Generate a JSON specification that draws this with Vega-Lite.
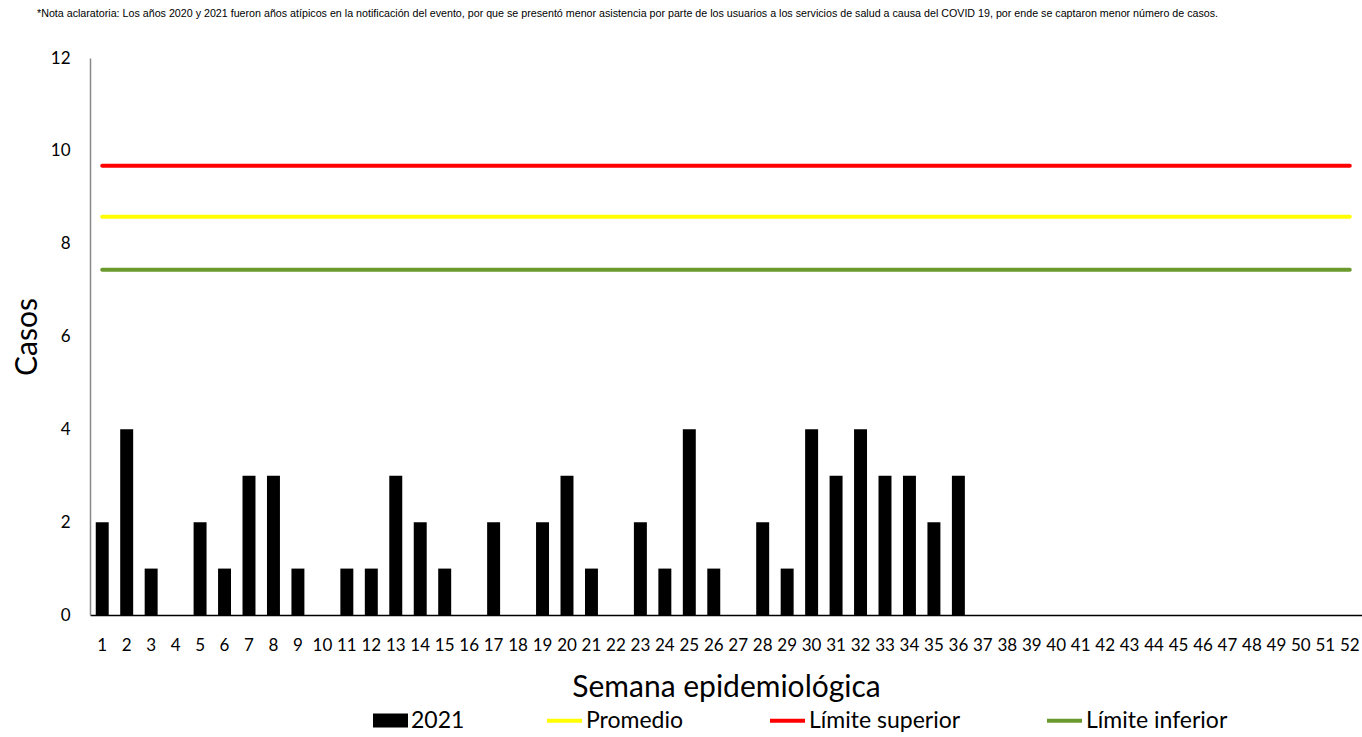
{
  "$schema": "https://vega.github.io/schema/vega-lite/v6.json",
  "autosize": {"type": "none"},
  "padding": {"left": 90, "top": 58, "right": 0, "bottom": 122},
  "width": 1272,
  "height": 557,
  "background": "white",
  "title": {
    "text": "*Nota aclaratoria: Los años 2020 y 2021 fueron años atípicos en la notificación del evento, por que se presentó menor asistencia por parte de los usuarios a los servicios de salud a causa del COVID 19, por ende se captaron menor número de casos.",
    "anchor": "start",
    "frame": "group",
    "font": "Liberation Sans",
    "fontSize": 10.7,
    "fontWeight": "normal",
    "color": "#000000",
    "dx": -53,
    "offset": 21,
    "baseline": "alphabetic"
  },
  "config": {
    "view": {"stroke": null},
    "font": "Lato"
  },
  "layer": [
    {
      "data": {
        "values": [
          {"semana": 1, "casos": 2, "serie": "2021"},
          {"semana": 2, "casos": 4, "serie": "2021"},
          {"semana": 3, "casos": 1, "serie": "2021"},
          {"semana": 4, "casos": 0, "serie": "2021"},
          {"semana": 5, "casos": 2, "serie": "2021"},
          {"semana": 6, "casos": 1, "serie": "2021"},
          {"semana": 7, "casos": 3, "serie": "2021"},
          {"semana": 8, "casos": 3, "serie": "2021"},
          {"semana": 9, "casos": 1, "serie": "2021"},
          {"semana": 10, "casos": 0, "serie": "2021"},
          {"semana": 11, "casos": 1, "serie": "2021"},
          {"semana": 12, "casos": 1, "serie": "2021"},
          {"semana": 13, "casos": 3, "serie": "2021"},
          {"semana": 14, "casos": 2, "serie": "2021"},
          {"semana": 15, "casos": 1, "serie": "2021"},
          {"semana": 16, "casos": 0, "serie": "2021"},
          {"semana": 17, "casos": 2, "serie": "2021"},
          {"semana": 18, "casos": 0, "serie": "2021"},
          {"semana": 19, "casos": 2, "serie": "2021"},
          {"semana": 20, "casos": 3, "serie": "2021"},
          {"semana": 21, "casos": 1, "serie": "2021"},
          {"semana": 22, "casos": 0, "serie": "2021"},
          {"semana": 23, "casos": 2, "serie": "2021"},
          {"semana": 24, "casos": 1, "serie": "2021"},
          {"semana": 25, "casos": 4, "serie": "2021"},
          {"semana": 26, "casos": 1, "serie": "2021"},
          {"semana": 27, "casos": 0, "serie": "2021"},
          {"semana": 28, "casos": 2, "serie": "2021"},
          {"semana": 29, "casos": 1, "serie": "2021"},
          {"semana": 30, "casos": 4, "serie": "2021"},
          {"semana": 31, "casos": 3, "serie": "2021"},
          {"semana": 32, "casos": 4, "serie": "2021"},
          {"semana": 33, "casos": 3, "serie": "2021"},
          {"semana": 34, "casos": 3, "serie": "2021"},
          {"semana": 35, "casos": 2, "serie": "2021"},
          {"semana": 36, "casos": 3, "serie": "2021"}
        ]
      },
      "mark": {"type": "bar"},
      "encoding": {
        "x": {
          "field": "semana",
          "type": "ordinal",
          "scale": {
            "domain": [1,2,3,4,5,6,7,8,9,10,11,12,13,14,15,16,17,18,19,20,21,22,23,24,25,26,27,28,29,30,31,32,33,34,35,36,37,38,39,40,41,42,43,44,45,46,47,48,49,50,51,52],
            "paddingInner": 0.47,
            "paddingOuter": 0.235
          },
          "axis": {
            "title": "Semana epidemiológica",
            "titleFont": "Lato",
            "titleFontSize": 30,
            "titleFontWeight": "normal",
            "titleColor": "#000000",
            "titlePadding": 19,
            "labelAngle": 0,
            "labelFont": "Lato",
            "labelFontSize": 17,
            "labelColor": "#000000",
            "labelPadding": 22,
            "ticks": false,
            "domainColor": "#000000",
            "domainWidth": 1.5
          }
        },
        "y": {
          "field": "casos",
          "type": "quantitative",
          "scale": {"domain": [0, 12]},
          "axis": {
            "title": "Casos",
            "titleFont": "Lato",
            "titleFontSize": 30,
            "titleFontWeight": "normal",
            "titleColor": "#000000",
            "titlePadding": 8,
            "values": [0, 2, 4, 6, 8, 10, 12],
            "labelFont": "Lato",
            "labelFontSize": 17,
            "labelColor": "#000000",
            "labelPadding": 20,
            "ticks": false,
            "grid": false,
            "domainColor": "#888888",
            "domainWidth": 1.5
          }
        },
        "fill": {
          "field": "serie",
          "type": "nominal",
          "scale": {"domain": ["2021"], "range": ["#000000"]},
          "legend": {
            "title": null,
            "orient": "none",
            "legendX": 283,
            "legendY": 645,
            "direction": "horizontal",
            "padding": 0,
            "symbolType": "M-1,-0.4H1V0.4H-1Z",
            "symbolSize": 1225,
            "symbolStrokeWidth": 0,
            "labelFont": "Lato",
            "labelFontSize": 23,
            "labelColor": "#000000",
            "labelOffset": 3,
            "labelLimit": 300
          }
        }
      }
    },
    {
      "data": {
        "values": [
          {"serie": "Promedio", "valor": 8.58, "desde": 1, "hasta": 52},
          {"serie": "Límite superior", "valor": 9.68, "desde": 1, "hasta": 52},
          {"serie": "Límite inferior", "valor": 7.44, "desde": 1, "hasta": 52}
        ]
      },
      "mark": {"type": "rule", "strokeWidth": 4, "strokeCap": "round"},
      "encoding": {
        "x": {"field": "desde", "type": "ordinal"},
        "x2": {"field": "hasta"},
        "y": {"field": "valor", "type": "quantitative"},
        "stroke": {
          "field": "serie",
          "type": "nominal",
          "scale": {
            "domain": ["Promedio", "Límite superior", "Límite inferior"],
            "range": ["#FFFF00", "#FF0000", "#6A9A2D"]
          },
          "legend": {
            "title": null,
            "orient": "none",
            "legendX": 455,
            "legendY": 643,
            "direction": "horizontal",
            "padding": 0,
            "symbolType": "stroke",
            "symbolSize": 1225,
            "symbolStrokeWidth": 4,
            "columnPadding": 78,
            "labelFont": "Lato",
            "labelFontSize": 23,
            "labelColor": "#000000",
            "labelOffset": 2,
            "labelLimit": 300
          }
        }
      }
    }
  ]
}
